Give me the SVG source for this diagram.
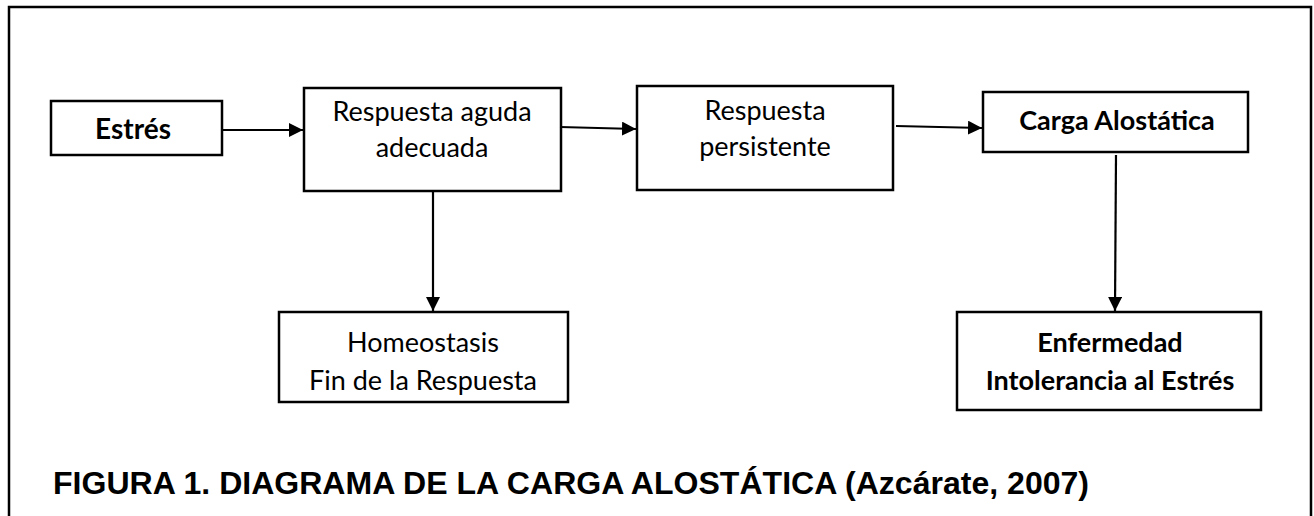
<svg xmlns="http://www.w3.org/2000/svg" width="1314" height="516" viewBox="0 0 1314 516">
<defs>
<style>
.box{fill:#fff;stroke:#000;stroke-width:2.5}
.t{font-family:Lato,"Open Sans","Liberation Sans",sans-serif;font-size:27px;fill:#000;text-anchor:middle}
.b{font-weight:bold}
.conn line{stroke:#000;stroke-width:2.2}
.cap{font-family:"Liberation Sans",Arial,sans-serif;font-weight:bold;font-size:32px;fill:#000}
</style>
<marker id="ah" viewBox="0 0 10 10" refX="10" refY="5" markerWidth="14" markerHeight="14" markerUnits="userSpaceOnUse" orient="auto">
<path d="M0,0 L10,5 L0,10 Z" fill="#000"/>
</marker>
</defs>
<rect width="1314" height="516" fill="#fff"/>
<path d="M9,516 V7 H1311 V516" fill="none" stroke="#000" stroke-width="2.5"/>
<g id="estres"><rect class="box" x="51" y="101" width="171" height="54"/><text class="t b" x="133" y="139" style="font-size:28px">Estrés</text></g>
<g id="aguda"><rect class="box" x="304" y="88" width="257" height="103"/><text class="t" x="432" y="121">Respuesta aguda</text><text class="t" x="432" y="157">adecuada</text></g>
<g id="persistente"><rect class="box" x="637" y="86" width="256" height="104"/><text class="t" x="765" y="120">Respuesta</text><text class="t" x="765" y="156">persistente</text></g>
<g id="carga"><rect class="box" x="983" y="92" width="265" height="60"/><text class="t b" x="1117" y="130">Carga Alostática</text></g>
<g id="homeostasis"><rect class="box" x="279" y="312" width="289" height="90"/><text class="t" x="423" y="352">Homeostasis</text><text class="t" x="423" y="390">Fin de la Respuesta</text></g>
<g id="enfermedad"><rect class="box" x="957" y="312" width="304" height="98"/><text class="t b" x="1110" y="352">Enfermedad</text><text class="t b" x="1110" y="390">Intolerancia al Estrés</text></g>
<g id="connectors" class="conn">
<line x1="222" y1="130" x2="303" y2="130" marker-end="url(#ah)"/>
<line x1="560" y1="127" x2="636" y2="129" marker-end="url(#ah)"/>
<line x1="896" y1="126" x2="982" y2="128" marker-end="url(#ah)"/>
<line x1="433" y1="192" x2="433" y2="311" marker-end="url(#ah)"/>
<line x1="1116" y1="155" x2="1115" y2="311" marker-end="url(#ah)"/>
</g>
<text class="cap" x="53" y="494" textLength="1036" lengthAdjust="spacingAndGlyphs">FIGURA 1. DIAGRAMA DE LA CARGA ALOSTÁTICA (Azcárate, 2007)</text>
</svg>
